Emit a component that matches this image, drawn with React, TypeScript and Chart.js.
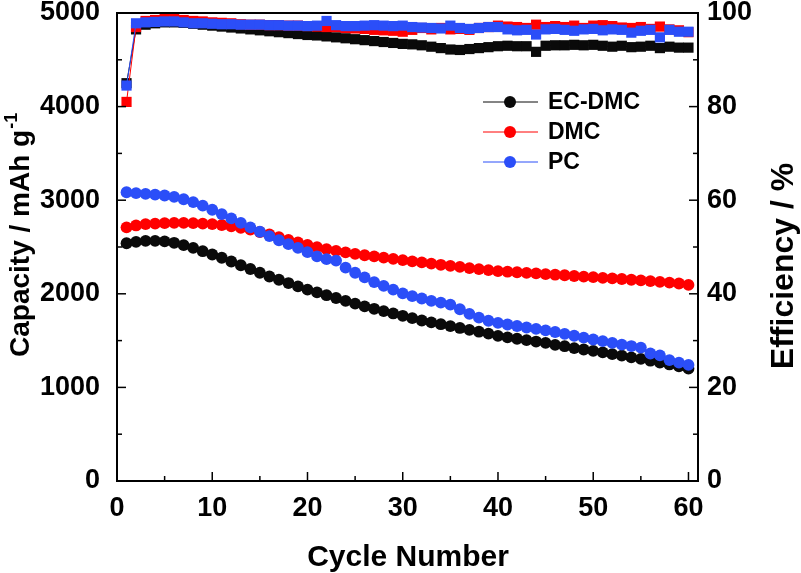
import React, { useEffect, useRef } from 'react';
import { Chart, registerables } from 'chart.js';

Chart.register(...registerables);

const FONT = '"Liberation Sans", Arial, Helvetica, sans-serif';

const CYCLES = [
  1, 2, 3, 4, 5, 6, 7, 8, 9, 10, 11, 12, 13, 14, 15, 16, 17, 18, 19, 20,
  21, 22, 23, 24, 25, 26, 27, 28, 29, 30, 31, 32, 33, 34, 35, 36, 37, 38, 39, 40,
  41, 42, 43, 44, 45, 46, 47, 48, 49, 50, 51, 52, 53, 54, 55, 56, 57, 58, 59, 60,
];

const EC_DMC_CAPACITY = [
  2540, 2555, 2565, 2565, 2560, 2545, 2520, 2490, 2455, 2420, 2385, 2345, 2305, 2265, 2225, 2185, 2150, 2115, 2080, 2045,
  2015, 1985, 1955, 1925, 1895, 1865, 1840, 1815, 1790, 1765, 1740, 1715, 1695, 1675, 1655, 1635, 1615, 1595, 1575, 1550,
  1535, 1520, 1505, 1490, 1475, 1455, 1440, 1420, 1405, 1390, 1375, 1355, 1340, 1320, 1305, 1285, 1265, 1245, 1225, 1200,
];
const DMC_CAPACITY = [
  2710, 2730, 2745, 2750, 2755, 2758, 2758, 2755, 2750, 2745, 2735, 2720, 2705, 2685, 2660, 2635, 2605, 2575, 2548, 2522,
  2498, 2477, 2458, 2442, 2427, 2412, 2400, 2387, 2373, 2360, 2347, 2335, 2322, 2310, 2298, 2287, 2275, 2264, 2253, 2242,
  2236, 2230, 2224, 2218, 2210, 2204, 2198, 2190, 2184, 2178, 2170, 2164, 2158, 2150, 2144, 2136, 2128, 2120, 2110, 2095,
];
const PC_CAPACITY = [
  3085, 3075, 3068, 3060, 3050, 3035, 3010, 2980, 2942, 2898, 2852, 2805, 2758, 2710, 2663, 2617, 2572, 2530, 2490, 2445,
  2400, 2370, 2355, 2280, 2225, 2175, 2125, 2085, 2045, 2005, 1975, 1950, 1925, 1905, 1885, 1835, 1785, 1745, 1712, 1690,
  1672, 1656, 1640, 1625, 1610, 1592, 1572, 1552, 1532, 1512, 1494, 1475, 1457, 1442, 1425, 1362, 1342, 1292, 1265, 1240,
];

const EC_DMC_EFFICIENCY = [
  85.0, 96.5, 97.5, 97.8, 98.0, 98.0, 97.9, 97.7, 97.5, 97.3, 97.1, 96.9, 96.7, 96.5, 96.3, 96.1, 95.9, 95.7, 95.5, 95.3,
  95.2, 95.0, 94.8, 94.6, 94.4, 94.2, 94.0, 93.8, 93.6, 93.4, 93.3, 93.1, 92.8, 92.5, 92.2, 92.1, 92.3, 92.5, 92.7, 92.9,
  93.0, 92.9, 92.9, 91.7, 93.0, 93.1, 93.1, 93.2, 93.1, 93.2, 93.0, 92.8, 93.0, 92.7, 92.8, 93.0, 92.5, 92.8, 92.6, 92.6,
];
const DMC_EFFICIENCY = [
  81.0, 97.0, 98.3, 98.5, 98.7, 98.7, 98.5, 98.3, 98.2, 98.0, 97.9, 97.8, 97.6, 97.5, 97.5, 97.4, 97.4, 97.3, 97.3, 97.2,
  97.1, 97.0, 97.0, 96.8, 96.7, 96.6, 96.4, 96.3, 96.2, 96.0, 96.4, 96.8, 96.5, 96.8, 96.5, 96.6, 96.4, 96.8, 97.0, 97.3,
  97.1, 97.0, 96.8, 97.5, 97.0, 97.2, 97.0, 97.3, 96.8, 97.3, 97.4, 97.2, 96.9, 96.8, 97.0, 96.6, 97.1, 96.5, 96.3, 95.9,
];
const PC_EFFICIENCY = [
  84.5, 97.8, 98.0, 98.1, 98.2, 98.2, 98.0, 97.8, 97.8, 97.7, 97.6, 97.6, 97.5, 97.5, 97.5, 97.4, 97.4, 97.3, 97.3, 97.2,
  97.3, 98.3, 97.4, 97.2, 97.2, 97.3, 97.4, 97.3, 97.2, 97.3, 97.0, 96.9, 96.8, 96.7, 97.3, 96.8, 96.6, 96.8, 97.0, 97.0,
  96.5, 96.3, 96.4, 95.4, 96.5, 96.6, 96.4, 96.2, 96.5, 96.6, 96.3, 96.5, 96.4, 95.8, 96.2, 96.4, 94.8, 96.4, 96.0, 96.0,
];

const X_TICKS = [0, 10, 20, 30, 40, 50, 60];
const X_MINOR = [5, 15, 25, 35, 45, 55];
const Y_TICKS = [0, 1000, 2000, 3000, 4000, 5000];
const Y_MINOR = [500, 1500, 2500, 3500, 4500];
const Y2_TICKS = [0, 20, 40, 60, 80, 100];
const Y2_MINOR = [10, 30, 50, 70, 90];

const SERIES = [
  { label: 'EC-DMC', color: '#0a0a0a', cap: EC_DMC_CAPACITY, eff: EC_DMC_EFFICIENCY },
  { label: 'DMC', color: '#ff0000', cap: DMC_CAPACITY, eff: DMC_EFFICIENCY },
  { label: 'PC', color: '#2b4ef8', cap: PC_CAPACITY, eff: PC_EFFICIENCY },
];

const decorPlugin = {
  id: 'decor',
  afterDraw(chart: any) {
    const ctx = chart.ctx as CanvasRenderingContext2D;
    const { left, right, top, bottom } = chart.chartArea;
    const sx = chart.scales.x;
    const sy = chart.scales.y;
    const sy2 = chart.scales.y1;
    ctx.save();
    ctx.strokeStyle = '#000';
    ctx.lineWidth = 2;
    ctx.strokeRect(left, top, right - left, bottom - top);
    ctx.lineWidth = 1.5;
    const tick = (x1: number, y1: number, x2: number, y2: number) => {
      ctx.beginPath();
      ctx.moveTo(x1, y1);
      ctx.lineTo(x2, y2);
      ctx.stroke();
    };
    X_TICKS.forEach((v) => { const p = sx.getPixelForValue(v); tick(p, bottom, p, bottom - 9); });
    X_MINOR.forEach((v) => { const p = sx.getPixelForValue(v); tick(p, bottom, p, bottom - 5); });
    Y_TICKS.forEach((v) => { const p = sy.getPixelForValue(v); tick(left, p, left + 9, p); });
    Y_MINOR.forEach((v) => { const p = sy.getPixelForValue(v); tick(left, p, left + 5, p); });
    Y2_TICKS.forEach((v) => { const p = sy2.getPixelForValue(v); tick(right, p, right - 9, p); });
    Y2_MINOR.forEach((v) => { const p = sy2.getPixelForValue(v); tick(right, p, right - 5, p); });

    // axis titles
    ctx.fillStyle = '#000';
    ctx.textBaseline = 'alphabetic';
    ctx.font = `bold 28px ${FONT}`;
    const main = 'Capacity / mAh g';
    const wMain = ctx.measureText(main).width;
    ctx.save();
    ctx.translate(29, 357);
    ctx.rotate(-Math.PI / 2);
    ctx.textAlign = 'left';
    ctx.font = `bold 28px ${FONT}`;
    ctx.fillText(main, 0, 0);
    ctx.font = `bold 18px ${FONT}`;
    ctx.fillText('-1', wMain + 1, -12);
    ctx.restore();

    ctx.save();
    ctx.translate(793, 266);
    ctx.rotate(-Math.PI / 2);
    ctx.textAlign = 'center';
    ctx.font = `bold 32px ${FONT}`;
    ctx.fillText('Efficiency / %', 0, 0);
    ctx.restore();

    ctx.textAlign = 'center';
    ctx.font = `bold 30px ${FONT}`;
    ctx.fillText('Cycle Number', 408, 566);

    // legend
    const lx1 = 483, lx2 = 538, dotX = 510, textX = 548;
    SERIES.forEach((s, i) => {
      const y = 102 + i * 30;
      ctx.strokeStyle = s.color;
      ctx.lineWidth = 1;
      tick(lx1, y, lx2, y);
      ctx.fillStyle = s.color;
      ctx.beginPath();
      ctx.arc(dotX, y, 6, 0, Math.PI * 2);
      ctx.fill();
      ctx.fillStyle = '#000';
      ctx.textAlign = 'left';
      ctx.textBaseline = 'middle';
      ctx.font = `bold 23px ${FONT}`;
      ctx.fillText(s.label, textX, y + 1);
    });
    ctx.restore();
  },
};

const noPad = (s: any) => {
  s.paddingTop = 0;
  s.paddingBottom = 0;
  s.paddingLeft = 0;
  s.paddingRight = 0;
};

export default function App() {
  const ref = useRef<HTMLCanvasElement>(null);
  useEffect(() => {
    document.body.style.margin = '0';
    const datasets: any[] = [];
    // index 0 is drawn on top: PC first, then DMC, then EC-DMC
    [...SERIES].reverse().forEach((s) => {
      datasets.push({
        label: s.label + ' efficiency',
        data: CYCLES.map((c, i) => ({ x: c, y: s.eff[i] })),
        yAxisID: 'y1',
        borderColor: s.color,
        backgroundColor: s.color,
        borderWidth: 1,
        pointStyle: 'rect',
        pointRadius: 7.2,
        pointBorderWidth: 0,
        clip: false,
      });
      datasets.push({
        label: s.label,
        data: CYCLES.map((c, i) => ({ x: c, y: s.cap[i] })),
        yAxisID: 'y',
        borderColor: s.color,
        backgroundColor: s.color,
        borderWidth: 1,
        pointStyle: 'circle',
        pointRadius: 5.9,
        pointBorderWidth: 0,
        clip: false,
      });
    });
    const tickFont = { family: FONT, size: 27, weight: 'bold' as const };
    const fmt = (v: any) => String(v);
    const chart = new Chart(ref.current!, {
      type: 'line',
      data: { datasets },
      plugins: [decorPlugin],
      options: {
        responsive: false,
        animation: false,
        devicePixelRatio: 1,
        layout: { padding: { top: 13, left: 0, right: 0, bottom: 0 } },
        plugins: { legend: { display: false }, tooltip: { enabled: false } },
        scales: {
          x: {
            type: 'linear',
            min: 0,
            max: 61,
            afterBuildTicks: (s: any) => { s.ticks = X_TICKS.map((v) => ({ value: v })); },
            afterFit: (s: any) => { s.height = 92; noPad(s); },
            ticks: { font: tickFont, color: '#000', padding: 11, maxRotation: 0, autoSkip: false, callback: fmt },
            grid: { display: false, drawTicks: false },
            border: { display: false },
          },
          y: {
            type: 'linear',
            position: 'left',
            min: 0,
            max: 5000,
            afterBuildTicks: (s: any) => { s.ticks = Y_TICKS.map((v) => ({ value: v })); },
            afterFit: (s: any) => { s.width = 117; noPad(s); },
            ticks: { font: tickFont, color: '#000', padding: 17, autoSkip: false, callback: fmt },
            grid: { display: false, drawTicks: false },
            border: { display: false },
          },
          y1: {
            type: 'linear',
            position: 'right',
            min: 0,
            max: 100,
            afterBuildTicks: (s: any) => { s.ticks = Y2_TICKS.map((v) => ({ value: v })); },
            afterFit: (s: any) => { s.width = 103; noPad(s); },
            ticks: { font: tickFont, color: '#000', padding: 9, autoSkip: false, callback: fmt },
            grid: { display: false, drawTicks: false },
            border: { display: false },
          },
        },
      } as any,
    });
    return () => chart.destroy();
  }, []);
  return (
    <div style={{ position: 'relative', width: 801, height: 573 }}>
      <canvas ref={ref} width={801} height={573} style={{ display: 'block', width: 801, height: 573 }} />
    </div>
  );
}
